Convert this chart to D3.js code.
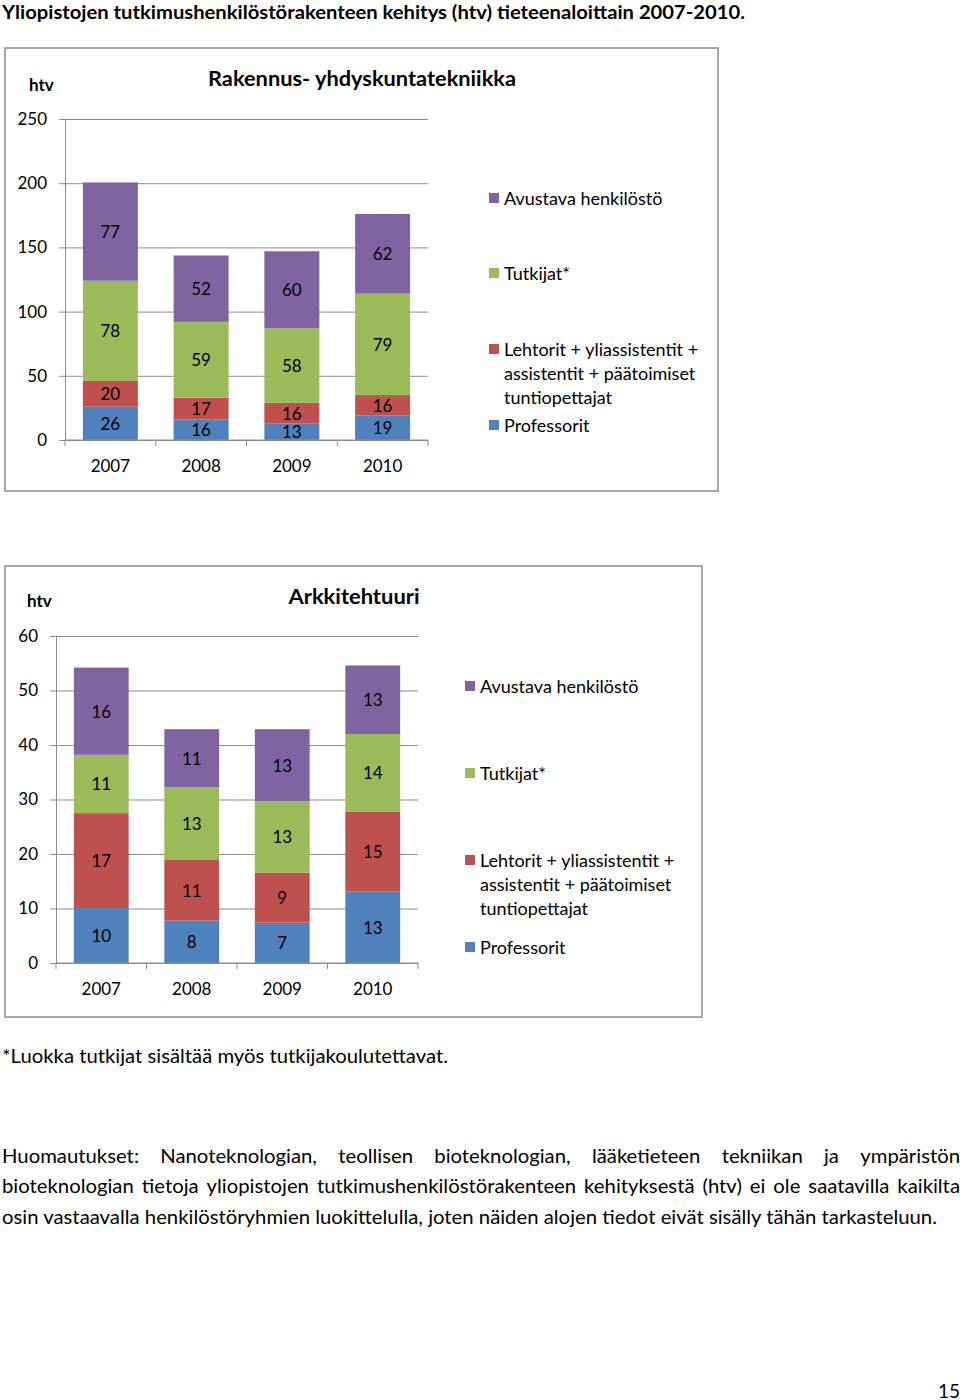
<!DOCTYPE html>
<html><head><meta charset="utf-8">
<script src="https://cdn.jsdelivr.net/npm/d3@7/dist/d3.min.js"></script>
<style>body{margin:0;background:#fff}svg{display:block}text{font-family:Lato,"Open Sans",sans-serif;fill:#000}</style>
</head><body>
<script>
// ---------- data ----------
const years = ["2007", "2008", "2009", "2010"];
const seriesNames = ["Professorit", "Lehtorit + yliassistentit + assistentit + päätoimiset tuntiopettajat", "Tutkijat*", "Avustava henkilöstö"];
const seriesColors = ["#4F81BD", "#C0504D", "#9BBB59", "#8064A2"];
const legendOrder = [3, 2, 1, 0];
const legendLines = [["Avustava henkilöstö"], ["Tutkijat*"], ["Lehtorit + yliassistentit +", "assistentit + päätoimiset", "tuntiopettajat"], ["Professorit"]];

// Rakennus- yhdyskuntatekniikka
const rakProfessorit = [26, 16, 13, 19];
const rakLehtorit = [20, 17, 16, 16];
const rakTutkijat = [78, 59, 58, 79];
const rakAvustava = [76.6, 51.7, 60, 62];
const rakTicks = [0, 50, 100, 150, 200, 250];

// Arkkitehtuuri
const arkProfessorit = [10.1, 7.8, 7.4, 13.1];
const arkLehtorit = [17.4, 11.1, 9.2, 14.7];
const arkTutkijat = [10.7, 13.4, 13.1, 14.2];
const arkAvustava = [16.0, 10.6, 13.2, 12.6];
const arkTicks = [0, 10, 20, 30, 40, 50, 60];

const pageTitle = "Yliopistojen tutkimushenkilöstörakenteen kehitys (htv) tieteenaloittain 2007-2010.";
const footnote = "*Luokka tutkijat sisältää myös tutkijakoulutettavat.";
const noteLines = [
  "Huomautukset: Nanoteknologian, teollisen bioteknologian, lääketieteen tekniikan ja ympäristön",
  "bioteknologian tietoja yliopistojen tutkimushenkilöstörakenteen kehityksestä (htv) ei ole saatavilla kaikilta",
  "osin vastaavalla henkilöstöryhmien luokittelulla, joten näiden alojen tiedot eivät sisälly tähän tarkasteluun."
];
const pageNumber = "15";

// ---------- drawing ----------
const svg = d3.select("body").append("svg").attr("width", 960).attr("height", 1400);
const GRID = "#8c8c8c";

function fit(sel, w) {
  const n = sel.node().getComputedTextLength();
  if (Math.abs(n - w) > 1) sel.attr("textLength", w).attr("lengthAdjust", "spacingAndGlyphs");
}

svg.append("text").attr("x", 2).attr("y", 12).attr("dominant-baseline", "central")
  .style("font-weight", "bold").style("font-size", "18px").text(pageTitle).call(fit, 743);

function drawChart(cfg) {
  const g = svg.append("g");
  g.append("rect").attr("x", cfg.frame[0]).attr("y", cfg.frame[1]).attr("width", cfg.frame[2]).attr("height", cfg.frame[3])
    .attr("fill", "#fff").attr("stroke", "#a6a6a6").attr("stroke-width", 2);

  const x = d3.scaleBand().domain(years).range([cfg.x0, cfg.x1]).paddingInner(0.394).paddingOuter(0.197);
  const y = d3.scaleLinear().domain([0, cfg.ticks[cfg.ticks.length - 1]]).range([cfg.y0, cfg.yTop]);

  // grid + y axis
  const yAxis = d3.axisLeft(y).tickValues(cfg.ticks).tickSize(-(cfg.x1 - cfg.x0)).tickPadding(12).tickFormat(d3.format("d"));
  const ya = g.append("g").attr("transform", `translate(${cfg.x0},0)`).call(yAxis);
  ya.select(".domain").attr("stroke", GRID);
  ya.selectAll(".tick line").attr("stroke", GRID).attr("x1", -6);
  ya.selectAll(".tick text").style("font-size", "17px").style("font-family", "Lato").attr("fill", "#000").attr("x", -cfg.yLabelGap);

  const rows = years.map((yr, i) => {
    const o = { year: yr };
    cfg.values.forEach((arr, s) => o["s" + s] = arr[i]);
    return o;
  });
  const stack = d3.stack().keys(cfg.values.map((_, s) => "s" + s))(rows);

  const layers = g.selectAll("g.layer").data(stack).join("g").attr("fill", (d, i) => seriesColors[i]);
  layers.selectAll("rect").data(d => d).join("rect")
    .attr("x", d => x(d.data.year)).attr("width", x.bandwidth())
    .attr("y", d => y(d[1])).attr("height", d => y(d[0]) - y(d[1]));
  layers.selectAll("text").data(d => d).join("text")
    .attr("x", d => x(d.data.year) + x.bandwidth() / 2)
    .attr("y", d => (y(d[0]) + y(d[1])) / 2).attr("dominant-baseline", "central")
    .attr("text-anchor", "middle").style("font-size", "17px")
    .text(d => d3.format(".0f")(d[1] - d[0]));

  // x axis
  const xa = g.append("g").attr("transform", `translate(0,${cfg.y0})`);
  xa.append("line").attr("x1", cfg.x0).attr("x2", cfg.x1).attr("stroke", GRID);
  const step = (cfg.x1 - cfg.x0) / years.length;
  d3.range(years.length + 1).forEach(i => xa.append("line").attr("x1", cfg.x0 + i * step).attr("x2", cfg.x0 + i * step)
    .attr("y1", 0).attr("y2", 6).attr("stroke", GRID));
  xa.selectAll("text").data(years).join("text").attr("x", d => x(d) + x.bandwidth() / 2).attr("y", cfg.xLabelY - cfg.y0)
    .attr("dominant-baseline", "central").attr("text-anchor", "middle").style("font-size", "17px").text(d => d);

  g.append("text").attr("x", cfg.htv[0]).attr("y", cfg.htv[1]).attr("dominant-baseline", "central")
    .style("font-weight", "bold").style("font-size", "17px").text("htv");
  g.append("text").attr("x", cfg.title[0]).attr("y", cfg.title[1]).attr("dominant-baseline", "central").attr("text-anchor", "middle")
    .style("font-weight", "bold").style("font-size", "21px").text(cfg.titleText).call(fit, cfg.titleW);

  // legend
  legendOrder.forEach((s, k) => {
    const lines = legendLines[k];
    const ys = cfg.legendY[k];
    g.append("rect").attr("x", cfg.legendX).attr("y", ys[0] - 5).attr("width", 10).attr("height", 10).attr("fill", seriesColors[s]);
    lines.forEach((ln, j) => g.append("text").attr("x", cfg.legendX + 15).attr("y", ys[j]).attr("dominant-baseline", "central")
      .style("font-size", "18px").text(ln));
  });
}

drawChart({
  frame: [5, 48, 713, 443], x0: 65, x1: 428, y0: 440, yTop: 119, ticks: rakTicks, yLabelGap: 18,
  values: [rakProfessorit, rakLehtorit, rakTutkijat, rakAvustava], xLabelY: 465,
  htv: [29, 84], title: [362, 77], titleW: 308, titleText: "Rakennus- yhdyskuntatekniikka",
  legendX: 489, legendY: [[198], [273], [349, 373, 397], [425]]
});
drawChart({
  frame: [5, 566, 697, 451], x0: 56, x1: 418, y0: 963, yTop: 636, ticks: arkTicks, yLabelGap: 18,
  values: [arkProfessorit, arkLehtorit, arkTutkijat, arkAvustava], xLabelY: 988,
  htv: [27, 600], title: [354, 595], titleW: 131, titleText: "Arkkitehtuuri",
  legendX: 465, legendY: [[686], [773], [860, 884, 908], [947]]
});

svg.append("text").attr("x", 2).attr("y", 1055).attr("dominant-baseline", "central").style("font-size", "19px")
  .text(footnote).call(fit, 446);

// justified paragraph
const PF = "19px";
const lastLine = svg.append("text").attr("x", 2).attr("y", 1216).attr("dominant-baseline", "central").style("font-size", PF).text(noteLines[2]);
const k = 935 / lastLine.node().getComputedTextLength();
lastLine.attr("textLength", 935).attr("lengthAdjust", "spacingAndGlyphs");
[[noteLines[0], 1155], [noteLines[1], 1185]].forEach(([line, yy]) => {
  const words = line.split(" ");
  const els = words.map(w => svg.append("text").attr("y", yy).attr("dominant-baseline", "central").style("font-size", PF).text(w));
  const widths = els.map(e => e.node().getComputedTextLength() * k);
  const gap = (958 - d3.sum(widths)) / (words.length - 1);
  let cx = 2;
  els.forEach((e, i) => { e.attr("x", cx).attr("textLength", widths[i]).attr("lengthAdjust", "spacingAndGlyphs"); cx += widths[i] + gap; });
});

svg.append("text").attr("x", 960).attr("y", 1390).attr("dominant-baseline", "central").attr("text-anchor", "end")
  .style("font-size", "19px").text(pageNumber);
</script>
</body></html>
